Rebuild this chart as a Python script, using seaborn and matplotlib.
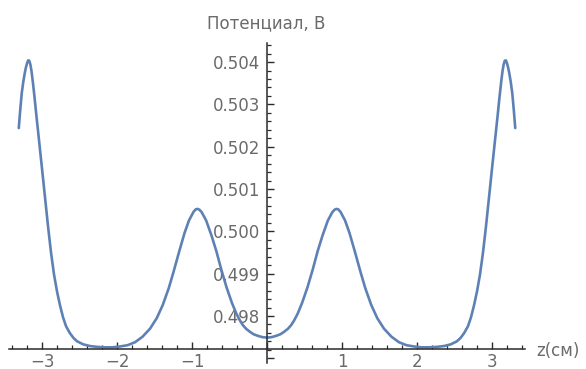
import numpy as np
import pandas as pd
import matplotlib
matplotlib.use("Agg")
import matplotlib.pyplot as plt
import seaborn as sns
from matplotlib.ticker import MultipleLocator, FixedLocator, FixedFormatter

# ---- data ----
z_left = [-3.31, -3.29, -3.27, -3.25, -3.23, -3.215, -3.20, -3.185, -3.17, -3.155,
          -3.14, -3.125, -3.10, -3.07, -3.04, -3.00, -2.96, -2.92, -2.88, -2.84,
          -2.80, -2.76, -2.72, -2.68, -2.63, -2.58, -2.53, -2.45, -2.36, -2.26, -2.16,
          -2.06, -1.96, -1.86, -1.76, -1.66, -1.56, -1.47, -1.39, -1.31, -1.25,
          -1.17, -1.10, -1.04, -0.98, -0.95, -0.925, -0.90, -0.87, -0.81, -0.74,
          -0.675, -0.61, -0.54, -0.47, -0.41, -0.36, -0.32, -0.28, -0.23, -0.18,
          -0.12, -0.06]
v_left = [0.50244, 0.50288, 0.50327, 0.50353, 0.50374, 0.50387, 0.50397, 0.50404, 0.50403, 0.50394,
          0.50378, 0.50357, 0.50317, 0.50265, 0.50215, 0.50148, 0.50080, 0.50012, 0.49950, 0.49898,
          0.49858, 0.49825, 0.49797, 0.49776, 0.49760, 0.49748, 0.49740, 0.49733, 0.49729, 0.49727, 0.49726,
          0.49726, 0.49728, 0.49731, 0.49738, 0.49751, 0.49770, 0.49795, 0.49826, 0.49866, 0.49902,
          0.49953, 0.49996, 0.50026, 0.50046, 0.50052, 0.50053, 0.50051, 0.50045, 0.50025, 0.49990,
          0.49953, 0.49910, 0.49868, 0.49832, 0.49806, 0.49789, 0.49778, 0.49770, 0.49763, 0.49757,
          0.49753, 0.49750]
z_mid = [0.0]
v_mid = [0.49749]
z_right = [0.06, 0.12, 0.18, 0.23, 0.28, 0.32, 0.36, 0.41, 0.47, 0.54,
           0.61, 0.675, 0.74, 0.81, 0.87, 0.90, 0.925, 0.95, 0.98, 1.04,
           1.10, 1.17, 1.25, 1.31, 1.39, 1.47, 1.56, 1.66, 1.76, 1.86,
           1.96, 2.06, 2.16, 2.26, 2.36, 2.45, 2.53, 2.58, 2.63, 2.68, 2.72,
           2.76, 2.80, 2.84, 2.88, 2.92, 2.96, 3.00, 3.04, 3.07, 3.10,
           3.125, 3.14, 3.155, 3.17, 3.185, 3.20, 3.215, 3.23, 3.25, 3.27,
           3.29, 3.31]
v_right = [0.49750, 0.49753, 0.49757, 0.49763, 0.49770, 0.49778, 0.49789, 0.49806, 0.49832, 0.49868,
           0.49910, 0.49953, 0.49990, 0.50025, 0.50045, 0.50051, 0.50053, 0.50052, 0.50046, 0.50026,
           0.49996, 0.49953, 0.49902, 0.49866, 0.49826, 0.49795, 0.49770, 0.49751, 0.49738, 0.49731,
           0.49728, 0.49726, 0.49726, 0.49727, 0.49729, 0.49733, 0.49740, 0.49748, 0.49760, 0.49776, 0.49797,
           0.49825, 0.49858, 0.49898, 0.49950, 0.50012, 0.50080, 0.50148, 0.50215, 0.50265, 0.50317,
           0.50357, 0.50378, 0.50394, 0.50403, 0.50404, 0.50397, 0.50387, 0.50374, 0.50353, 0.50327,
           0.50288, 0.50244]

x_ticks = [-3, -2, -1, 0, 1, 2, 3]
x_tick_labels = ["\u22123", "\u22122", "\u22121", "", "1", "2", "3"]
y_ticks = [0.497, 0.498, 0.499, 0.500, 0.501, 0.502, 0.503, 0.504]
y_tick_labels = ["", "0.498", "0.499", "0.500", "0.501", "0.502", "0.503", "0.504"]
y_label = "Потенциал, В"
x_label = "z(см)"

df = pd.DataFrame({"z": z_left + z_mid + z_right, "v": v_left + v_mid + v_right})

sns.set_style("white")
plt.rcParams["font.family"] = ["DejaVu Sans"]

fig = plt.figure(figsize=(5.86, 3.69), dpi=100)
ax = fig.add_axes([0.0154, 0.0163, 0.8805, 0.8672])

sns.lineplot(data=df, x="z", y="v", ax=ax, color="#5E81B5", linewidth=1.9,
             estimator=None, sort=False)

ax.set_xlim(-3.44, 3.44)
ax.set_ylim(0.49689, 0.50445)

axis_col = "#2a2a2a"
for s in ["top", "right"]:
    ax.spines[s].set_visible(False)
ax.spines["left"].set_position(("data", 0))
ax.spines["bottom"].set_position(("data", 0.49722))
for s in ["left", "bottom"]:
    ax.spines[s].set_color(axis_col)
    ax.spines[s].set_linewidth(1.1)

ax.xaxis.set_major_locator(FixedLocator(x_ticks))
ax.xaxis.set_major_formatter(FixedFormatter(x_tick_labels))
ax.xaxis.set_minor_locator(MultipleLocator(0.2))
ax.yaxis.set_major_locator(FixedLocator(y_ticks))
ax.yaxis.set_major_formatter(FixedFormatter(y_tick_labels))
ax.yaxis.set_minor_locator(MultipleLocator(0.0002))

lab_col = "#6a6a6a"
ax.tick_params(axis="both", which="major", direction="in", length=5, width=1.0,
               color=axis_col, labelsize=12, labelcolor=lab_col)
ax.tick_params(axis="both", which="minor", direction="in", length=3, width=0.9,
               color=axis_col)
ax.tick_params(axis="x", which="major", pad=3)
ax.tick_params(axis="y", which="major", pad=5)
ax.tick_params(axis="both", which="both", bottom=True, left=True)

ax.set_xlabel("")
ax.set_ylabel("")
ax.grid(False)

fig.text(266 / 586, 1 - 23 / 369, y_label, ha="center", va="center",
         fontsize=12, color=lab_col)
fig.text(536 / 586, 1 - 351 / 369, x_label, ha="left", va="center",
         fontsize=12, color=lab_col)

fig.savefig("out.png", dpi=100)
